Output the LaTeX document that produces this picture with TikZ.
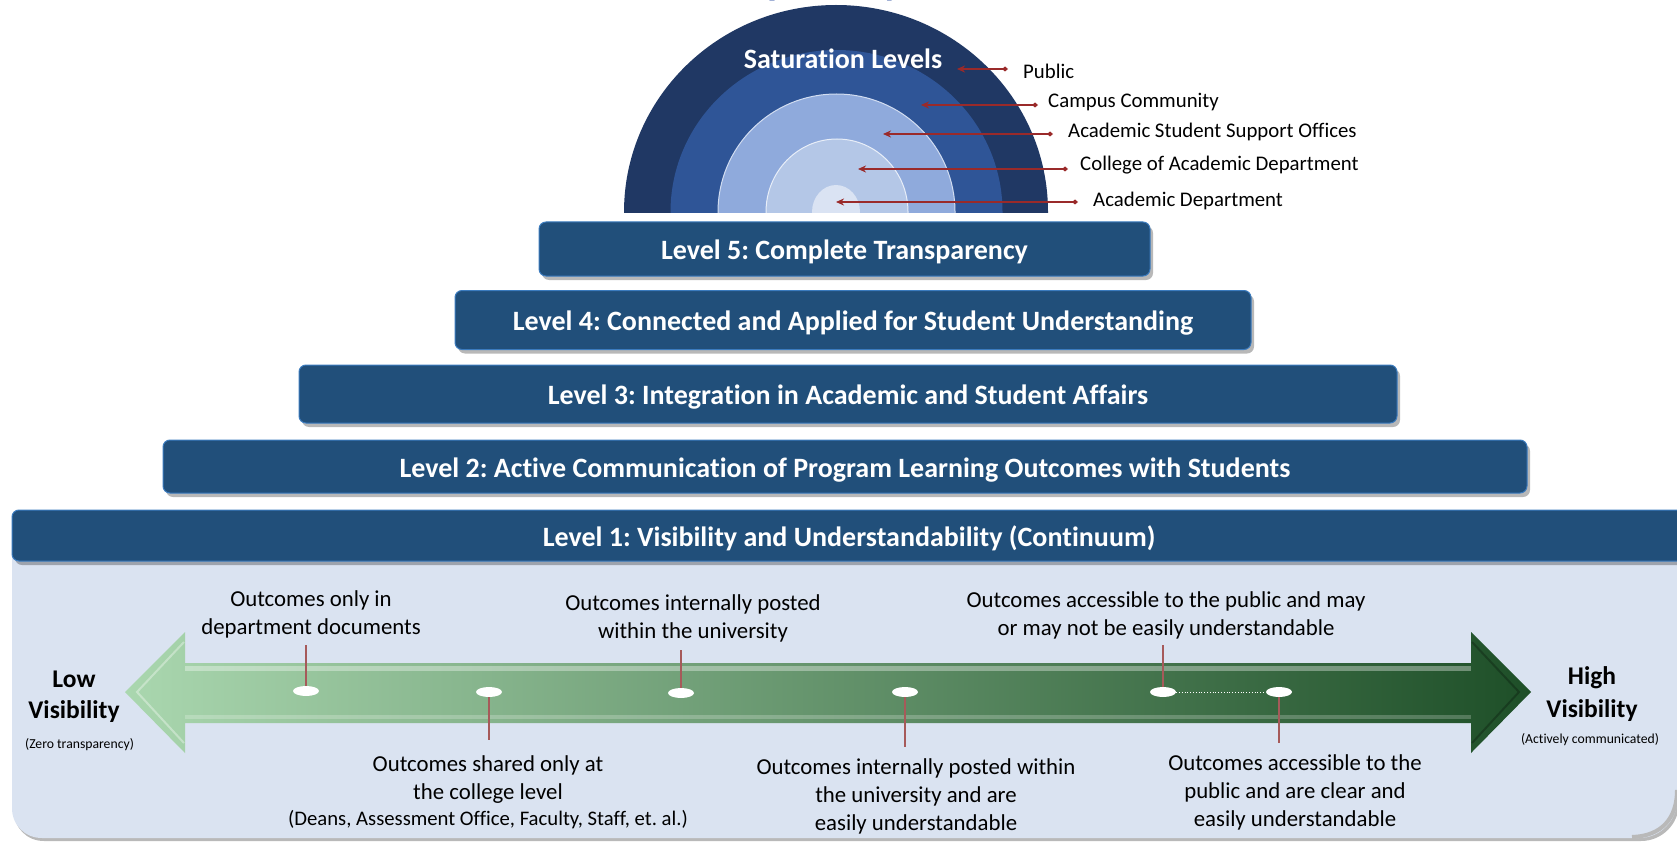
\documentclass[tikz,border=0pt]{standalone}
\usepackage{fontspec}
\setmainfont{Carlito}[Ligatures=NoCommon]
\frenchspacing
\usetikzlibrary{arrows.meta,shapes.geometric,shadows,calc}
\definecolor{ringA}{HTML}{203864}
\definecolor{ringB}{HTML}{2F5597}
\definecolor{ringC}{HTML}{8FAADC}
\definecolor{ringD}{HTML}{B4C7E7}
\definecolor{ringE}{HTML}{DAE3F3}
\definecolor{boxblue}{HTML}{214F7A}
\definecolor{boxedge}{HTML}{3B7BBE}
\definecolor{panelc}{HTML}{DAE3F1}
\definecolor{satred}{HTML}{9A2A2A}
\definecolor{stemred}{HTML}{A65A5A}
\definecolor{titleblue}{HTML}{3355A6}
\definecolor{gL}{HTML}{AAD7AF}
\definecolor{gM}{HTML}{66996B}
\definecolor{gR}{HTML}{1E4F28}
\begin{document}
\begin{tikzpicture}[x=1pt,y=-1pt,
  lvl/.style={rounded corners=7pt, fill=boxblue, draw=boxedge, line width=1pt, text=white,
    font=\bfseries\fontsize{28}{32}\selectfont, inner sep=0pt, text height=24.5pt, text depth=3pt,
    drop shadow={shadow xshift=3pt, shadow yshift=-4pt, fill=black, opacity=.28}},
  satlab/.style={anchor=west, inner sep=0pt, font=\fontsize{20.8}{24}\selectfont},
  satarr/.style={draw=satred, line width=2.4pt, arrows={Stealth[length=8pt,width=7pt]-Diamond[length=6pt,width=5pt]}},
  desc/.style={align=center, inner sep=0pt, font=\fontsize{22.8}{28}\selectfont},
  marker/.style={ellipse, fill=white, minimum width=26pt, minimum height=10pt, inner sep=0pt},
  stem/.style={draw=stemred, line width=1.2pt},
  vis/.style={align=center, inner sep=0pt, font=\bfseries\fontsize{25.5}{31}\selectfont},
  visub/.style={inner sep=0pt, font=\fontsize{13.7}{16}\selectfont},
]
\useasboundingbox (0,0) rectangle (1677,842);
\fill[white] (0,0) rectangle (1677,842);

% title fragment (cut off at top)
\begin{scope}
\clip (0,0) rectangle (1677,842);
\node[anchor=base west, inner sep=0pt, text=titleblue, font=\bfseries\fontsize{41}{45}\selectfont] (title) at (677,-5) {Transparency};
\end{scope}

% saturation rings
\begin{scope}
\clip (0,0) rectangle (1677,212.5);
\fill[ringA] (836,212) ellipse [x radius=212, y radius=207];
\fill[ringB] (836.5,212) ellipse [x radius=166, y radius=162];
\filldraw[fill=ringC, draw=ringC!40!white, line width=1pt] (836.5,212) ellipse [x radius=118.5, y radius=118];
\filldraw[fill=ringD, draw=ringD!30!white, line width=1pt] (837,212) ellipse [x radius=71, y radius=73];
\fill[ringE] (836,212) ellipse [x radius=24, y radius=27];
\end{scope}
\node[inner sep=0pt, text=white, font=\bfseries\fontsize{28}{32}\selectfont] (sat) at (843,59) {Saturation Levels};

% saturation labels and arrows
\node[satlab] (lab1) at (1023,71) {Public};
\node[satlab] (lab2) at (1048,102.5) {Campus Community};
\node[satlab] (lab3) at (1068,131.5) {Academic Student Support Offices};
\node[satlab] (lab4) at (1080,165.5) {College of Academic Department};
\node[satlab] (lab5) at (1093,201) {Academic Department};
\coordinate (r1) at (1008,69);   \coordinate (p1) at (957,69);
\coordinate (r2) at (1038,105);  \coordinate (p2) at (921,105);
\coordinate (r3) at (1053,134);  \coordinate (p3) at (883,134);
\coordinate (r4) at (1068,169);  \coordinate (p4) at (858,169);
\coordinate (r5) at (1078,202);  \coordinate (p5) at (836,202);
\foreach \i in {1,...,5} {\draw[satarr] (p\i) -- (r\i);}

% level boxes
\node[lvl, minimum width=611pt, minimum height=54pt] (L5) at (844.5,249) {Level 5: Complete Transparency};
\node[lvl, minimum width=796pt, minimum height=59pt] (L4) at (853,320) {Level 4: Connected and Applied for Student Understanding};
\node[lvl, minimum width=1098pt, minimum height=58pt] (L3) at (848,394) {Level 3: Integration in Academic and Student Affairs};
\node[lvl, minimum width=1364pt, minimum height=53pt] (L2) at (845,466.5) {Level 2: Active Communication of Program Learning Outcomes with Students};

% continuum panel
\path[fill=panelc, drop shadow={shadow xshift=2pt, shadow yshift=-3pt, fill=gray, opacity=.55}]
  (12,540) -- (1677,540) -- (1677,800) .. controls (1677,821) and (1660,838) .. (1639,838)
  -- (42,838) .. controls (25,838) and (12,825) .. (12,808) -- cycle;
\draw[gray!55, line width=4pt] (1677,790) .. controls (1677,818) and (1662,836) .. (1632,837);

\node[lvl, minimum width=1674pt, minimum height=51pt] (L1) at (849,535.5) {Level 1: Visibility and Understandability (Continuum)};

% green double arrow
\coordinate (tipL) at (125,692);
\coordinate (tipR) at (1531,692);
\shade[left color=gL, middle color=gM, right color=gR]
  (tipL) -- (185,632) -- (185,663) -- (1471,663) -- (1471,632) -- (tipR) -- (1471,753) -- (1471,723)
  -- (185,723) -- (185,753) -- cycle;
\fill[white, opacity=.35] (185,666) rectangle (1471,671);
\fill[white, opacity=.22] (185,715) rectangle (1471,719);
\draw[white, opacity=.35, line width=2pt] (184,642) -- (137,692) -- (184,743);
\draw[black, opacity=.25, line width=2pt] (1472,642) -- (1519,692) -- (1472,743);

% markers and stems
\node[marker] (m1) at (306,691) {};
\node[marker] (m2) at (489,692) {};
\node[marker] (m3) at (681,693) {};
\node[marker] (m4) at (905,692) {};
\node[marker] (m5) at (1163,692) {};
\node[marker] (m6) at (1279,692) {};
\coordinate (s1) at (306,645);
\coordinate (s2) at (489,740);
\coordinate (s3) at (681,650);
\coordinate (s4) at (905,747);
\coordinate (s5) at (1163,645);
\coordinate (s6) at (1279,743);
\draw[stem] (m1.north) -- (s1);
\draw[stem] (m2.south) -- (s2);
\draw[stem] (m3.north) -- (s3);
\draw[stem] (m4.south) -- (s4);
\draw[stem] (m5.north) -- (s5);
\draw[stem] (m6.south) -- (s6);
\draw[white, dotted, line width=0.8pt] (m5.east) -- (m6.west);

% descriptions
\node[desc] (t1) at (311,614.5) {Outcomes only in\\department documents};
\node[desc] (t3) at (693,618.5) {Outcomes internally posted\\within the university};
\node[desc] (t5) at (1166,615.5) {Outcomes accessible to the public and may\\or may not be easily understandable};
\node[desc] (t2) at (488,792) {Outcomes shared only at\\the college level\\[-2pt]{\fontsize{20.7}{24}\selectfont (Deans, Assessment Office, Faculty, Staff, et. al.)}};
\node[desc] (t4) at (916,796) {Outcomes internally posted within\\the university and are\\easily understandable};
\node[desc] (t6) at (1295,792.5) {Outcomes accessible to the\\public and are clear and\\easily understandable};

% ends of continuum
\node[vis] (low) at (74,697) {Low\\Visibility};
\node[visub] (lowsub) at (79.5,745) {(Zero transparency)};
\node[vis, font=\bfseries\fontsize{25.5}{33}\selectfont] (high) at (1592,694.5) {High\\Visibility};
\node[visub] (highsub) at (1590,740) {(Actively communicated)};
\end{tikzpicture}
\end{document}
